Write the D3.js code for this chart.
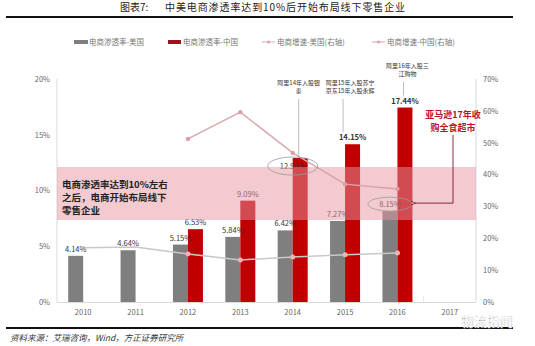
<!DOCTYPE html>
<html><head><meta charset="utf-8">
<script src="https://cdn.jsdelivr.net/npm/d3@7"></script>
<style>body{margin:0;background:#fff}svg{display:block}</style>
</head><body>
<svg id="c" width="535" height="346"></svg>
<script>
const years = ["2010","2011","2012","2013","2014","2015","2016","2017"];
const usPen = [4.14, 4.64, 5.15, 5.84, 6.42, 7.27, 8.15, null];
const cnPen = [null, null, 6.53, 9.09, 12.91, 14.15, 17.44, null];
const usGrowth = [17.0, 17.3, 15.1, 13.2, 14.1, 14.8, 15.4, null];
const cnGrowth = [null, null, 51.2, 59.6, 46.8, 37.0, 35.5, null];
const leftTicks = [0, 5, 10, 15, 20];
const rightTicks = [0, 10, 20, 30, 40, 50, 60, 70];
const legendNames = ["电商渗透率-美国", "电商渗透率-中国", "电商增速-美国(右轴)", "电商增速-中国(右轴)"];
const annotations = [
  {year:"2014", lines:["阿里14年入股银","泰"]},
  {year:"2015", lines:["阿里15年入股苏宁","京东15年入股永辉"]},
  {year:"2016", lines:["阿里16年入股三","江购物"]}
];
const titleLabel = "图表7:";
const title = "中美电商渗透率达到10%后开始布局线下零售企业";
const bandText = ["电商渗透率达到10%左右","之后，电商开始布局线下","零售企业"];
const amazonText = ["亚马逊17年收","购全食超市"];
const source = "资料来源：艾瑞咨询，Wind，方正证券研究所";

const svg = d3.select("#c");
const F = "'Noto Sans CJK SC','Noto Sans',sans-serif";
const x = d3.scaleBand().domain(years).range([57, 476]).padding(0);
const yL = d3.scaleLinear().domain([0, 20]).range([302, 79]);
const yR = d3.scaleLinear().domain([0, 70]).range([302, 79]);
const cx = y => x(y) + x.bandwidth()/2;
const bw = 15;

// title
svg.append("text").attr("x", 120).attr("y", 11).attr("font-family", F).attr("font-size", 10)
  .attr("fill", "#222").text(titleLabel);
svg.append("text").attr("x", 165).attr("y", 11).attr("font-family", F).attr("font-size", 10)
  .attr("letter-spacing", 0.9).attr("fill", "#222").text(title);
svg.append("line").attr("x1", 6).attr("x2", 513).attr("y1", 17).attr("y2", 17).attr("stroke", "#111").attr("stroke-width", 2);

// legend
const lg = svg.append("g").attr("font-family", F).attr("font-size", 7.5).attr("fill", "#777");
const legX = [74, 168, 262, 372];
lg.append("rect").attr("x", legX[0]).attr("y", 40).attr("width", 14).attr("height", 4).attr("fill", "#7f7f7f");
lg.append("rect").attr("x", legX[1]).attr("y", 40).attr("width", 13).attr("height", 4).attr("fill", "#a01020");
[2,3].forEach(i => {
  lg.append("line").attr("x1", legX[i]).attr("x2", legX[i]+13).attr("y1", 42).attr("y2", 42)
    .attr("stroke", i===2 ? "#bbb" : "#d8a0a6").attr("stroke-width", 1);
  lg.append("circle").attr("cx", legX[i]+6.5).attr("cy", 42).attr("r", 1.6).attr("fill", "#e8a0a8");
});
legendNames.forEach((n,i) => lg.append("text").attr("x", legX[i] + 15).attr("y", 45).text(n));

// axes lines
svg.append("line").attr("x1", 57).attr("x2", 57).attr("y1", 79).attr("y2", 302).attr("stroke", "#d9d9d9");
svg.append("line").attr("x1", 476).attr("x2", 476).attr("y1", 79).attr("y2", 302).attr("stroke", "#d9d9d9");
svg.append("line").attr("x1", 57).attr("x2", 476).attr("y1", 302.5).attr("y2", 302.5).attr("stroke", "#d9d9d9");
svg.append("line").attr("x1", x("2017")).attr("x2", x("2017")).attr("y1", 296).attr("y2", 302).attr("stroke", "#e5e5e5");

const axL = svg.append("g").attr("transform", "translate(57,0)")
  .call(d3.axisLeft(yL).tickValues(leftTicks).tickFormat(d => d + "%").tickSize(0).tickPadding(7));
const axR = svg.append("g").attr("transform", "translate(476,0)")
  .call(d3.axisRight(yR).tickValues(rightTicks).tickFormat(d => d + "%").tickSize(0).tickPadding(7));
const axB = svg.append("g").attr("transform", "translate(0,302)")
  .call(d3.axisBottom(x).tickSize(0).tickPadding(8));
[axL, axR, axB].forEach(a => {
  a.select(".domain").remove();
  a.selectAll("text").attr("font-family", F).attr("font-size", 7.5).attr("fill", "#666");
});

// bars
const idx = d3.range(years.length);
svg.append("g").selectAll("rect").data(idx.filter(i => usPen[i] != null)).join("rect")
  .attr("x", i => cx(years[i]) - bw).attr("width", bw)
  .attr("y", i => yL(usPen[i])).attr("height", i => yL(0) - yL(usPen[i])).attr("fill", "#7f7f7f");
svg.append("g").selectAll("rect").data(idx.filter(i => cnPen[i] != null)).join("rect")
  .attr("x", i => cx(years[i])).attr("width", bw)
  .attr("y", i => yL(cnPen[i])).attr("height", i => yL(0) - yL(cnPen[i])).attr("fill", "#c00000");

// lines
const lineUS = d3.line().defined(i => usGrowth[i] != null).x(i => cx(years[i])).y(i => yR(usGrowth[i]));
const lineCN = d3.line().defined(i => cnGrowth[i] != null).x(i => cx(years[i])).y(i => yR(cnGrowth[i]));
svg.append("path").attr("d", lineUS(idx)).attr("fill", "none").attr("stroke", "#c9c9c9").attr("stroke-width", 1.5);
svg.append("path").attr("d", lineCN(idx)).attr("fill", "none").attr("stroke", "#d7a9ad").attr("stroke-width", 1.5);
svg.append("g").selectAll("circle").data(idx.filter(i => usGrowth[i] != null && i >= 2)).join("circle")
  .attr("cx", i => cx(years[i])).attr("cy", i => yR(usGrowth[i])).attr("r", 2.5).attr("fill", "#f0b4b8");
svg.append("g").selectAll("circle").data(idx.filter(i => cnGrowth[i] != null)).join("circle")
  .attr("cx", i => cx(years[i])).attr("cy", i => yR(cnGrowth[i])).attr("r", 2.2).attr("fill", "#d9a0a6");

// value labels
const vl = svg.append("g").attr("font-family", F).attr("font-size", 7.5).attr("text-anchor", "middle");
idx.filter(i => usPen[i] != null).forEach(i => {
  vl.append("text").attr("x", cx(years[i]) - bw/2).attr("y", yL(usPen[i]) - 4).attr("fill", "#333").text(usPen[i].toFixed(2) + "%");
});
idx.filter(i => cnPen[i] != null).forEach(i => {
  let yy = yL(cnPen[i]) - 4;
  if (years[i] === "2014") yy = yL(cnPen[i]) + 11;
  vl.append("text").attr("x", cx(years[i]) + bw/2 - (years[i]==="2014"?bw/2:0)).attr("y", yy)
    .attr("fill", "#333").attr("font-weight", (i>=5)?"bold":"normal").text(cnPen[i].toFixed(2) + "%");
});

// highlight band
svg.append("rect").attr("x", 57).attr("y", 167).attr("width", 419).attr("height", 53)
  .attr("fill", "rgb(230,150,160)").attr("opacity", 0.5);

// ellipses
const i14 = years.indexOf("2014"), i16 = years.indexOf("2016");
svg.append("ellipse").attr("cx", cx("2014")).attr("cy", yL(cnPen[i14]) + 8).attr("rx", 25).attr("ry", 9)
  .attr("fill", "none").attr("stroke", "#999").attr("stroke-width", 0.8);
svg.append("ellipse").attr("cx", cx("2016") - bw/2).attr("cy", yL(usPen[i16]) - 7).attr("rx", 22).attr("ry", 7)
  .attr("fill", "none").attr("stroke", "#999").attr("stroke-width", 0.8);

// annotations
const an = svg.append("g").attr("font-family", F).attr("font-size", 6).attr("fill", "#333").attr("text-anchor", "middle");
annotations.forEach(a => {
  const i = years.indexOf(a.year);
  const top = a.year === "2016" ? 68 : 85;
  const xc = a.year === "2014" ? cx(a.year) + 6 : a.year === "2015" ? cx(a.year) + 5 : cx(a.year) + 10;
  a.lines.forEach((l, k) => an.append("text").attr("x", xc).attr("y", top + k * 8).text(l));
  const lx = cx(a.year) + (a.year === "2014" ? 6 : a.year === "2015" ? -2 : 6);
  const endY = a.year === "2014" ? yR(cnGrowth[i]) + 4 : yL(cnPen[i]) - 12;
  svg.append("line").attr("x1", lx).attr("x2", lx).attr("y1", top + 8 * a.lines.length - 2).attr("y2", endY)
    .attr("stroke", "#aaa").attr("stroke-width", 0.8);
});

// band text
const bt = svg.append("g").attr("font-family", F).attr("font-size", 9.5).attr("font-weight", "bold").attr("fill", "#222");
bandText.forEach((t, k) => bt.append("text").attr("x", 62).attr("y", 188 + k * 13).text(t));

// amazon
const am = svg.append("g").attr("font-family", F).attr("font-size", 9).attr("font-weight", "bold").attr("fill", "#c01030").attr("text-anchor", "middle");
amazonText.forEach((t, k) => am.append("text").attr("x", 453).attr("y", 118 + k * 13).text(t));
svg.append("defs").append("marker").attr("id", "ah").attr("viewBox", "0 0 10 10").attr("refX", 2).attr("refY", 5)
  .attr("markerWidth", 6).attr("markerHeight", 6).attr("orient", "auto")
  .append("path").attr("d", "M10,1 L1,5 L10,9").attr("fill", "none").attr("stroke", "#7a1a2a").attr("stroke-width", 1.5);
svg.append("path").attr("d", `M453,135 L453,${yL(usPen[i16]) - 8} L415,${yL(usPen[i16]) - 8}`)
  .attr("fill", "none").attr("stroke", "#7a1a2a").attr("stroke-width", 0.9).attr("marker-end", "url(#ah)");

// footer
svg.append("line").attr("x1", 6).attr("x2", 513).attr("y1", 328).attr("y2", 328).attr("stroke", "#111").attr("stroke-width", 2);
svg.append("text").attr("x", 10).attr("y", 341).attr("font-family", F).attr("font-size", 8.5).attr("font-style", "italic")
  .attr("fill", "#333").text(source);
svg.append("text").attr("x", 461).attr("y", 326).attr("font-family", F).attr("font-size", 13)
  .attr("fill", "#888").attr("stroke", "#fff").attr("stroke-width", 0.6).text("物流指闻");
</script>
</body></html>
